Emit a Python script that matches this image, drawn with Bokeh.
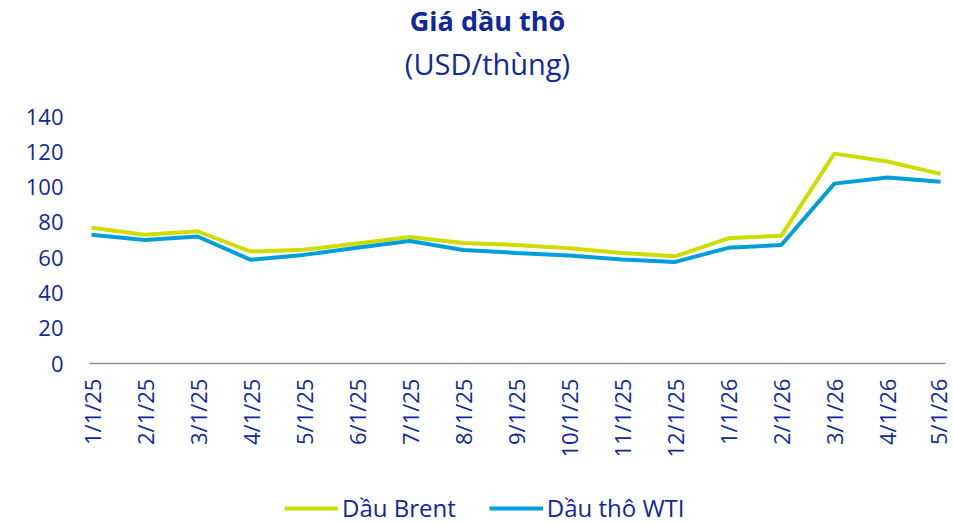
import math
from bokeh.plotting import figure
from bokeh.models import Range1d, FixedTicker, Legend, LegendItem, Label, ColumnDataSource
from bokeh.embed import file_html
from bokeh.resources import INLINE

dates = ["1/1/25", "2/1/25", "3/1/25", "4/1/25", "5/1/25", "6/1/25", "7/1/25", "8/1/25",
         "9/1/25", "10/1/25", "11/1/25", "12/1/25", "1/1/26", "2/1/26", "3/1/26", "4/1/26", "5/1/26"]
brent = [77.0, 73.0, 75.0, 63.5, 64.5, 68.0, 71.8, 68.3, 67.2, 65.4, 62.7, 60.8, 71.0, 72.5, 119.0, 114.5, 107.5]
wti = [73.0, 70.0, 72.0, 58.8, 61.6, 65.6, 69.5, 64.4, 62.7, 61.2, 59.0, 57.6, 65.6, 67.2, 102.0, 105.5, 103.0]
yticks = [0, 20, 40, 60, 80, 100, 120, 140]
title_text = "Giá dầu thô"
subtitle_text = "(USD/thùng)"

FONT = "Open Sans"
BLUE = "#10289a"
C_BRENT = "#cfdc00"
C_WTI = "#009fdc"

xs = list(range(len(dates)))
src = ColumnDataSource(dict(x=xs, brent=brent, wti=wti))

# The (invisible) frame spans the whole canvas: titles, the x axis
# (pinned at y=0) and the legend are all drawn inside it.
p = figure(frame_width=883, frame_height=525, output_backend="svg", toolbar_location=None,
           x_range=Range1d(-0.396, 16.245), y_range=Range1d(-91.8, 205.8),
           min_border_left=70, min_border_right=0, min_border_top=0, min_border_bottom=0)
p.outline_line_color = None
p.background_fill_color = "white"
p.border_fill_color = "white"
p.xgrid.visible = False
p.ygrid.visible = False

r1 = p.line("x", "brent", source=src, line_color=C_BRENT, line_width=4)
r2 = p.line("x", "wti", source=src, line_color=C_WTI, line_width=4)

# y axis
ya = p.yaxis[0]
ya.ticker = FixedTicker(ticks=yticks)
ya.axis_line_color = None
ya.major_tick_line_color = None
ya.minor_tick_line_color = None
ya.major_tick_out = 0
ya.major_tick_in = 0
ya.major_label_text_font = FONT
ya.major_label_text_font_size = "22px"
ya.major_label_text_color = BLUE
ya.major_label_standoff = 7

# x axis, pinned at y = 0
xa = p.xaxis[0]
xa.fixed_location = 0
xa.bounds = (-0.04, 16.09)
xa.ticker = FixedTicker(ticks=xs)
xa.major_label_overrides = {i: d for i, d in zip(xs, dates)}
xa.major_label_orientation = math.pi / 2
xa.axis_line_color = "#8a8aa0"
xa.axis_line_width = 1.5
xa.major_tick_line_color = None
xa.minor_tick_line_color = None
xa.major_tick_out = 0
xa.major_tick_in = 0
xa.major_label_text_font = FONT
xa.major_label_text_font_size = "22px"
xa.major_label_text_color = BLUE
xa.major_label_standoff = 15

# titles (screen units, relative to the frame's bottom-left; frame left is at x=70)
p.add_layout(Label(x=417, y=505, x_units="screen", y_units="screen", text=title_text,
                   text_align="center", text_baseline="middle", text_font=FONT,
                   text_font_size="27px", text_font_style="bold", text_color=BLUE))
p.add_layout(Label(x=417, y=462, x_units="screen", y_units="screen", text=subtitle_text,
                   text_align="center", text_baseline="middle", text_font=FONT,
                   text_font_size="29px", text_font_style="normal", text_color=BLUE))

legend = Legend(items=[LegendItem(label="Dầu Brent", renderers=[r1]),
                       LegendItem(label="Dầu thô WTI", renderers=[r2])],
                orientation="horizontal", location=(214, 1),
                label_text_font=FONT, label_text_font_size="24px", label_text_color=BLUE,
                glyph_width=54, glyph_height=20, label_standoff=4, spacing=33,
                border_line_color=None, background_fill_alpha=0, margin=0, padding=4)
p.add_layout(legend, "center")

open("out.html", "w").write(file_html(p, INLINE))
